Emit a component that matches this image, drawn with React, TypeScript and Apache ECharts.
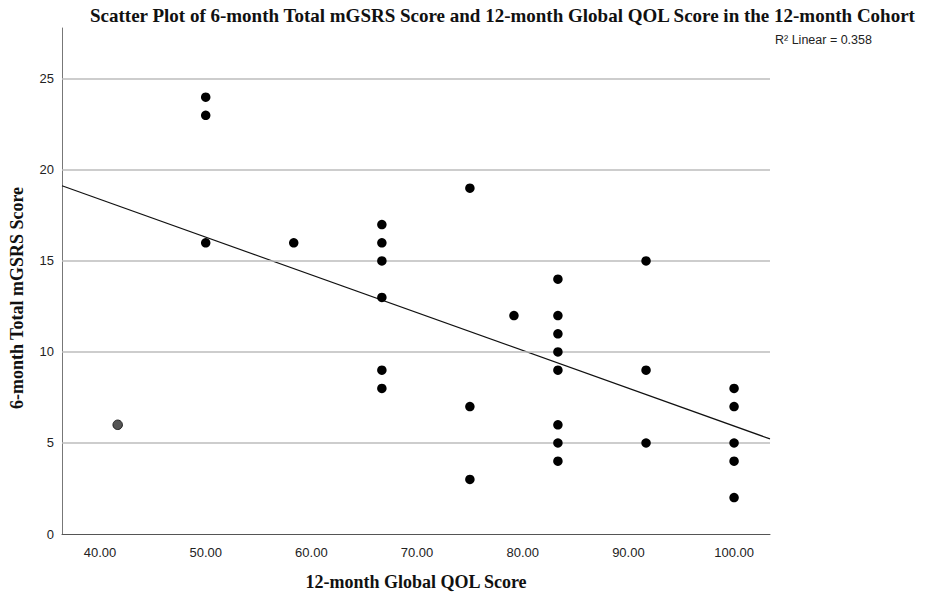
import React, { useEffect, useRef } from "react";
import * as echarts from "echarts";

const qolScores = [
  41.67, 50, 50, 50, 58.33,
  66.67, 66.67, 66.67, 66.67, 66.67, 66.67,
  75, 75, 75, 79.17,
  83.33, 83.33, 83.33, 83.33, 83.33, 83.33, 83.33, 83.33,
  91.67, 91.67, 91.67,
  100, 100, 100, 100, 100,
];
const gsrsScores = [
  6, 24, 23, 16, 16,
  17, 16, 15, 13, 9, 8,
  19, 7, 3, 12,
  14, 12, 11, 10, 9, 6, 5, 4,
  15, 9, 5,
  8, 7, 5, 4, 2,
];
const xTicks = [40, 50, 60, 70, 80, 90, 100];
const yTicks = [0, 5, 10, 15, 20, 25];
const gridValues = [5, 10, 15, 20, 25];
const xRange = [36.4, 103.4];
const yRange = [0, 27.8];

const titleText =
  "Scatter Plot of 6-month Total mGSRS Score and 12-month Global QOL Score in the 12-month Cohort";
const xName = "12-month Global QOL Score";
const yName = "6-month Total mGSRS Score";
const r2Text = "R\u00b2 Linear = 0.358";

function regression(xs: number[], ys: number[]) {
  const n = xs.length;
  const mx = xs.reduce((a, b) => a + b, 0) / n;
  const my = ys.reduce((a, b) => a + b, 0) / n;
  let sxy = 0;
  let sxx = 0;
  for (let i = 0; i < n; i++) {
    sxy += (xs[i] - mx) * (ys[i] - my);
    sxx += (xs[i] - mx) * (xs[i] - mx);
  }
  const slope = sxy / sxx;
  return { slope, intercept: my - slope * mx };
}

export default function App() {
  const ref = useRef<HTMLDivElement>(null);
  useEffect(() => {
    if (!ref.current) return;
    const chart = echarts.init(ref.current, null, { renderer: "svg" });
    const { slope, intercept } = regression(qolScores, gsrsScores);
    const fit = xRange.map((x) => [x, intercept + slope * x]);
    const points = qolScores.map((x, i) => {
      if (i === 0) {
        return {
          value: [x, gsrsScores[i]],
          itemStyle: { color: "#555555", borderColor: "#222222", borderWidth: 1, opacity: 1 },
        };
      }
      return { value: [x, gsrsScores[i]] };
    });
    chart.setOption({
      animation: false,
      backgroundColor: "#ffffff",
      grid: { left: 62, right: 158, top: 28, bottom: 60, containLabel: false },
      xAxis: {
        type: "value",
        min: xRange[0],
        max: xRange[1],
        axisLine: { show: true, lineStyle: { color: "#555555", width: 1 } },
        axisTick: { show: false },
        splitLine: { show: false },
        axisLabel: {
          customValues: xTicks,
          formatter: (v: number) => v.toFixed(2),
          color: "#222222",
          fontFamily: "Liberation Sans",
          fontSize: 13,
          margin: 12,
        },
        name: xName,
        nameLocation: "middle",
        nameGap: 39,
        nameTextStyle: {
          fontFamily: "Liberation Serif",
          fontWeight: "bold",
          fontSize: 18,
          color: "#111111",
          verticalAlign: "top",
        },
      },
      yAxis: {
        type: "value",
        min: yRange[0],
        max: yRange[1],
        axisLine: { show: true, lineStyle: { color: "#777777", width: 1 } },
        axisTick: { show: false },
        splitLine: { show: false },
        axisLabel: {
          customValues: yTicks,
          color: "#222222",
          fontFamily: "Liberation Sans",
          fontSize: 13,
          margin: 8,
        },
      },
      series: [
        {
          type: "scatter",
          data: points,
          symbol: "circle",
          symbolSize: 9.5,
          itemStyle: { color: "#000000", opacity: 1 },
          z: 5,
          markLine: {
            silent: true,
            symbol: "none",
            label: { show: false },
            lineStyle: { color: "#bdbdbd", width: 1.5, type: "solid" },
            data: gridValues.map((v) => ({ yAxis: v })),
          },
        },
        {
          type: "line",
          data: fit,
          showSymbol: false,
          symbol: "none",
          lineStyle: { color: "#111111", width: 1.2 },
          z: 4,
        },
      ],
      graphic: [
        {
          type: "text",
          left: 90,
          top: 6,
          style: {
            text: titleText,
            fontFamily: "Liberation Serif",
            fontWeight: "bold",
            fontSize: 19,
            fill: "#111111",
          },
        },
        {
          type: "text",
          left: 775,
          top: 33,
          style: {
            text: r2Text,
            fontFamily: "Liberation Sans",
            fontSize: 12.5,
            fill: "#222222",
          },
        },
        {
          type: "text",
          x: 17,
          y: 298,
          rotation: Math.PI / 2,
          style: {
            text: yName,
            fontFamily: "Liberation Serif",
            fontWeight: "bold",
            fontSize: 18,
            fill: "#111111",
            align: "center",
            verticalAlign: "middle",
          },
        },
      ],
    });
    return () => chart.dispose();
  }, []);
  return (
    <div
      ref={ref}
      style={{ position: "absolute", left: 0, top: 0, width: 928, height: 596 }}
    />
  );
}
